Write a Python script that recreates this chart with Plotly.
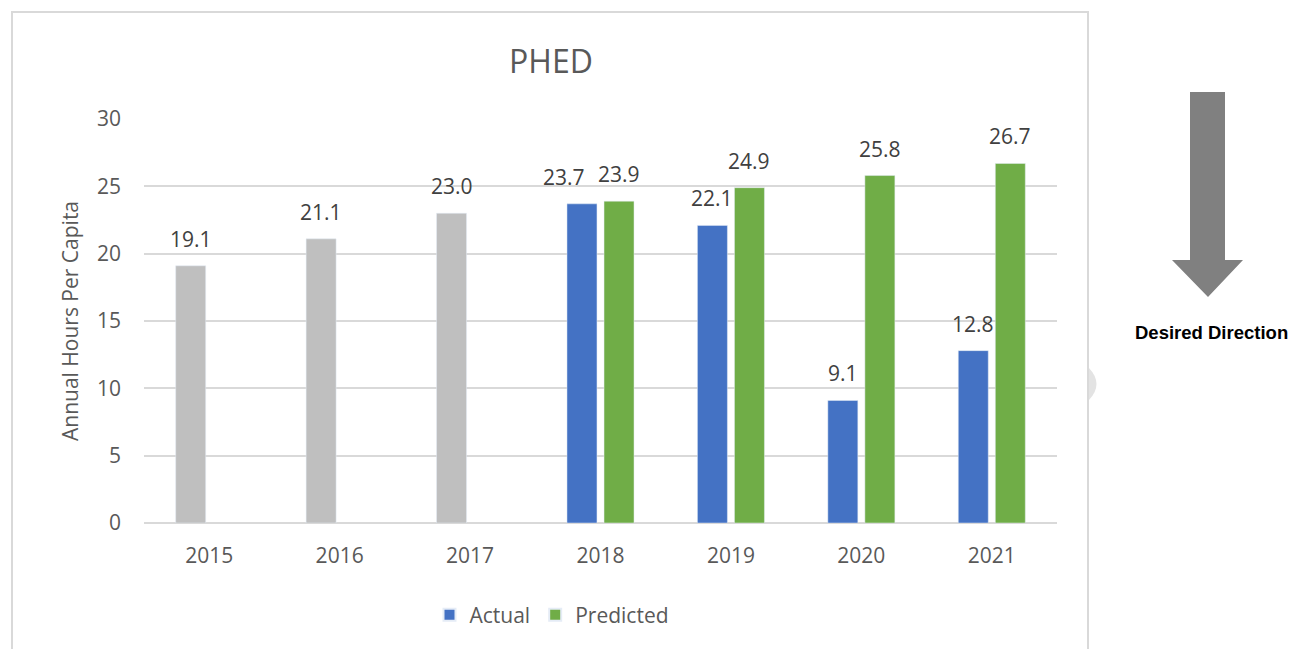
import plotly.graph_objects as go

years = ["2015", "2016", "2017", "2018", "2019", "2020", "2021"]
actual = [19.1, 21.1, 23.0, 23.7, 22.1, 9.1, 12.8]
predicted = [None, None, None, 23.9, 24.9, 25.8, 26.7]
n_history = 3  # years shown in gray (before predictions)

BLUE = "#4472C4"
GREEN = "#70AD47"
GRAY = "#BFBFBF"
GRID = "#D9D9D9"
TXT = "#595959"
FONT = "Open Sans"

BAR_W = 0.23
OFF_A = -0.257
OFF_P = 0.027

# page body has an 8px margin; the figure is sized to fit the window
PAGE = 8
W, H = 1299 - PAGE, 649 - PAGE

fig = go.Figure()
fig.add_trace(go.Bar(
    x=years[:n_history], y=actual[:n_history], marker_color=GRAY,
    width=BAR_W, offset=OFF_A, showlegend=False, name="Actual"))
fig.add_trace(go.Bar(
    x=years[n_history:], y=actual[n_history:], marker_color=BLUE,
    width=BAR_W, offset=OFF_A, name="Actual"))
fig.add_trace(go.Bar(
    x=years, y=predicted, marker_color=GREEN,
    width=BAR_W, offset=OFF_P, name="Predicted"))

lbl_font = dict(family=FONT, size=21, color="#404040")
annotations = []
for i, (a, p) in enumerate(zip(actual, predicted)):
    if a is not None:
        # avoid collision with a neighbouring label of similar height
        shift = -18 if (p is not None and abs(p - a) < 1.0) else 0
        annotations.append(dict(x=i + OFF_A + BAR_W / 2, y=a, xref="x", yref="y",
                                text=f"{a:.1f}", showarrow=False, yanchor="middle",
                                xanchor="center", yshift=27, xshift=shift, font=lbl_font))
    if p is not None:
        annotations.append(dict(x=i + OFF_P + BAR_W / 2, y=p, xref="x", yref="y",
                                text=f"{p:.1f}", showarrow=False, yanchor="middle",
                                xanchor="center", yshift=27, font=lbl_font))


def px(x):
    return (x - 144) / 913


def py(y):
    return (523 - y) / 404


annotations.append(dict(x=px(1211), y=py(332), xref="paper", yref="paper",
                        xanchor="center", yanchor="middle",
                        text="<b>Desired Direction</b>", showarrow=False,
                        font=dict(family="Liberation Sans", size=18.5, color="#000000")))

arrow_path = (f"M {px(1190)} {py(92)} L {px(1225)} {py(92)} L {px(1225)} {py(260)} "
              f"L {px(1243)} {py(260)} L {px(1208)} {py(297)} L {px(1172)} {py(260)} "
              f"L {px(1190)} {py(260)} Z")
chevron_path = (f"M {px(1089)} {py(368)} Q {px(1104)} {py(384)} {px(1089)} {py(400)} Z")

shapes = [
    dict(type="rect", xref="paper", yref="paper", x0=px(12), x1=px(1088), y0=py(670), y1=py(12),
         line=dict(color=GRID, width=2), fillcolor="rgba(0,0,0,0)", layer="below"),
    dict(type="path", xref="paper", yref="paper", path=arrow_path,
         fillcolor="#808080", line=dict(width=0)),
    dict(type="path", xref="paper", yref="paper", path=chevron_path,
         fillcolor="#E3E3E3", line=dict(width=0)),
]

fig.update_layout(
    width=W, height=H,
    margin=dict(l=144 - PAGE, r=W - (144 - PAGE) - 913, t=119 - PAGE,
                b=H - (119 - PAGE) - 404, pad=0),
    paper_bgcolor="white", plot_bgcolor="white",
    barmode="overlay",
    title=dict(text="PHED", x=(551 - PAGE) / W, xref="container", xanchor="center",
               y=1 - (62 - PAGE) / H, yref="container", yanchor="middle",
               font=dict(family=FONT, size=32, color=TXT)),
    font=dict(family=FONT, color=TXT),
    legend=dict(orientation="h", x=px(552), xanchor="center", y=py(615), yanchor="middle",
                font=dict(family=FONT, size=21, color=TXT), itemsizing="constant",
                traceorder="normal"),
    annotations=annotations,
    shapes=shapes,
    showlegend=True,
)
fig.update_xaxes(type="category", showgrid=False, showline=False, zeroline=False,
                 tickfont=dict(family=FONT, size=21, color=TXT), ticklabelstandoff=18,
                 ticks="")
fig.update_yaxes(range=[0, 30], dtick=5, showgrid=True, gridcolor=GRID, gridwidth=1.5,
                 zeroline=True, zerolinecolor=GRID, zerolinewidth=1.5, showline=False,
                 tickfont=dict(family=FONT, size=21, color=TXT), ticklabelstandoff=22,
                 title=dict(text="Annual Hours Per Capita", standoff=12,
                            font=dict(family=FONT, size=21, color=TXT)))

fig.write_html("out.html")
